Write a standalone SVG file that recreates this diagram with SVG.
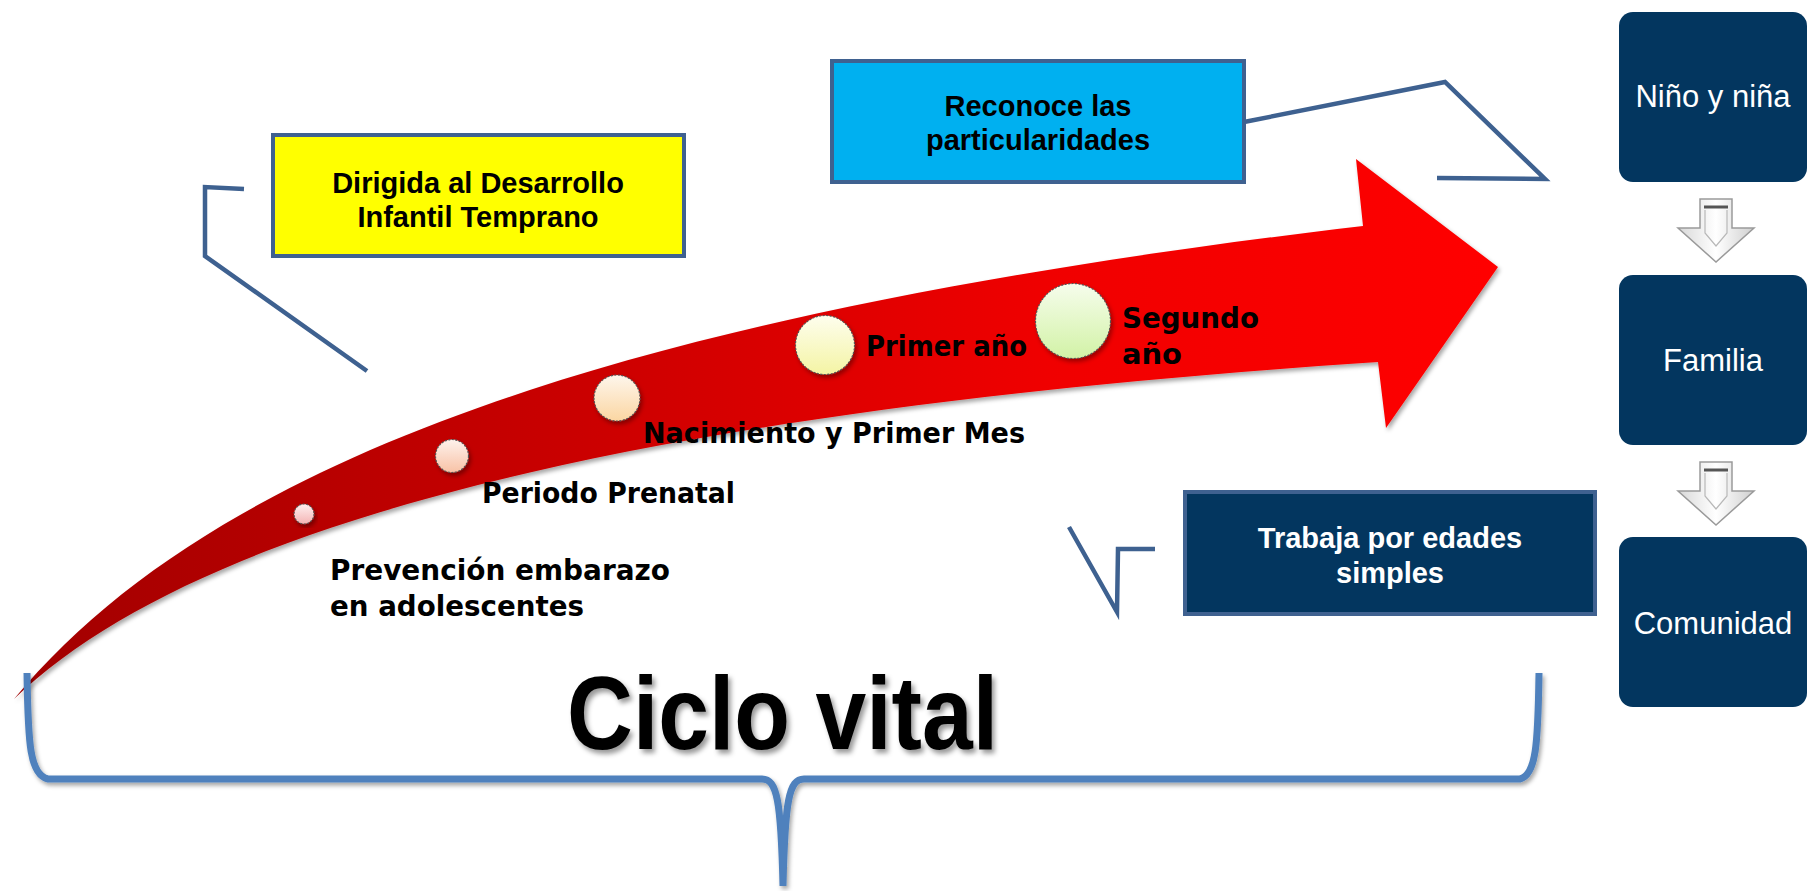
<svg xmlns="http://www.w3.org/2000/svg" width="1808" height="891" viewBox="0 0 1808 891">
<defs>
  <linearGradient id="redGrad" gradientUnits="userSpaceOnUse" x1="0" y1="0" x2="1500" y2="0">
    <stop offset="0" stop-color="#A00000"/>
    <stop offset="0.4" stop-color="#CC0000"/>
    <stop offset="0.7" stop-color="#F00000"/>
    <stop offset="1" stop-color="#FF0000"/>
  </linearGradient>
  <linearGradient id="g1" x1="0" y1="0" x2="0" y2="1"><stop offset="0" stop-color="#FEF0F0"/><stop offset="1" stop-color="#F4B4B4"/></linearGradient>
  <linearGradient id="g2" x1="0" y1="0" x2="0" y2="1"><stop offset="0" stop-color="#FEF2EC"/><stop offset="1" stop-color="#F8C2A6"/></linearGradient>
  <linearGradient id="g3" x1="0" y1="0" x2="0" y2="1"><stop offset="0" stop-color="#FEF6EC"/><stop offset="1" stop-color="#FBD6A2"/></linearGradient>
  <linearGradient id="g4" x1="0" y1="0" x2="0" y2="1"><stop offset="0" stop-color="#FEFEEE"/><stop offset="1" stop-color="#F4F4A4"/></linearGradient>
  <linearGradient id="g5" x1="0" y1="0" x2="0" y2="1"><stop offset="0" stop-color="#F6FDEC"/><stop offset="1" stop-color="#D2F2A6"/></linearGradient>
  <linearGradient id="hollow" x1="0" y1="0" x2="1" y2="0">
    <stop offset="0" stop-color="#D8D8D8"/>
    <stop offset="0.5" stop-color="#FFFFFF"/>
    <stop offset="1" stop-color="#CFCFCF"/>
  </linearGradient>
  <filter id="shadow" x="-10%" y="-10%" width="130%" height="130%">
    <feDropShadow dx="2" dy="3" stdDeviation="2" flood-color="#000" flood-opacity="0.35"/>
  </filter>
  <filter id="tshadow" x="-10%" y="-10%" width="130%" height="130%">
    <feDropShadow dx="3" dy="4" stdDeviation="2.5" flood-color="#000" flood-opacity="0.4"/>
  </filter>
  <style>
    .box { stroke: #3F6190; stroke-width: 4; }
    .callout { fill: none; stroke: #3E6190; stroke-width: 4.5; stroke-linejoin: miter; }
    .bt { font-family: "Liberation Sans", Arial, sans-serif; font-weight: bold; font-size: 29px; text-anchor: middle; }
    .lbl { font-family: "DejaVu Sans", "Liberation Sans", sans-serif; font-weight: bold; font-size: 29px; fill: #000; }
    .nav { fill: #03365F; }
    .wt { font-family: "Liberation Sans", Arial, sans-serif; font-size: 31px; fill: #FFFFFF; text-anchor: middle; }
    .dot { stroke: #555; stroke-width: 1.2; stroke-dasharray: 2 1.5; filter: url(#shadow); }
    .harrow { fill: url(#hollow); stroke: #9A9A9A; stroke-width: 1.5; }
  </style>
</defs>
<rect width="1808" height="891" fill="#FFFFFF"/>

<g id="arrow-ciclo">
  <path d="M 14,699 C 220,450 650,310 1363,226 L 1356,159 L 1498,267 L 1386,428 L 1378,362 C 650,410 200,520 14,699 Z" fill="url(#redGrad)" filter="url(#shadow)"/>
</g>

<g id="stages">
  <g id="stage-prevencion">
    <circle class="dot" cx="304" cy="514" r="10" fill="url(#g1)"/>
    <text class="lbl" x="330" y="580" textLength="340" lengthAdjust="spacingAndGlyphs">Prevención embarazo</text>
    <text class="lbl" x="330" y="616" textLength="254" lengthAdjust="spacingAndGlyphs">en adolescentes</text>
  </g>
  <g id="stage-prenatal">
    <circle class="dot" cx="452" cy="456" r="16.5" fill="url(#g2)"/>
    <text class="lbl" x="482" y="503" textLength="253" lengthAdjust="spacingAndGlyphs">Periodo Prenatal</text>
  </g>
  <g id="stage-nacimiento">
    <circle class="dot" cx="617" cy="398" r="23" fill="url(#g3)"/>
    <text class="lbl" x="643" y="443" textLength="382" lengthAdjust="spacingAndGlyphs">Nacimiento y Primer Mes</text>
  </g>
  <g id="stage-primer">
    <circle class="dot" cx="825" cy="345" r="29.5" fill="url(#g4)"/>
    <text class="lbl" x="866" y="356" textLength="161" lengthAdjust="spacingAndGlyphs">Primer año</text>
  </g>
  <g id="stage-segundo">
    <circle class="dot" cx="1073" cy="321" r="37.5" fill="url(#g5)"/>
    <text class="lbl" x="1122" y="328" textLength="137" lengthAdjust="spacingAndGlyphs">Segundo</text>
    <text class="lbl" x="1122" y="364" textLength="60" lengthAdjust="spacingAndGlyphs">año</text>
  </g>
</g>

<g id="connectors">
  <polyline class="callout" points="244,189 205,187 205,256 367,371"/>
  <polyline class="callout" points="1244,122 1445,82 1545,179 1437,178"/>
  <polyline class="callout" points="1069,527 1117,612 1118,549 1155,549"/>
</g>

<g id="box-dirigida">
  <rect class="box" x="273" y="135" width="411" height="121" fill="#FFFF00"/>
  <text class="bt" x="478" y="193">Dirigida al Desarrollo</text>
  <text class="bt" x="478" y="227">Infantil Temprano</text>
</g>

<g id="box-reconoce">
  <rect class="box" x="832" y="61" width="412" height="121" fill="#00B0F0"/>
  <text class="bt" x="1038" y="116">Reconoce las</text>
  <text class="bt" x="1038" y="150">particularidades</text>
</g>

<g id="box-trabaja">
  <rect class="box" x="1185" y="492" width="410" height="122" fill="#03365F"/>
  <text class="bt" x="1390" y="548" fill="#FFFFFF">Trabaja por edades</text>
  <text class="bt" x="1390" y="583" fill="#FFFFFF">simples</text>
</g>

<g id="node-nino">
  <rect class="nav" x="1619" y="12" width="188" height="170" rx="14"/>
  <text class="wt" x="1713" y="107">Niño y niña</text>
</g>
<g id="hollow-arrow-1">
  <polygon class="harrow" points="1700,199 1732,199 1732,228 1754,228 1716,262 1678,228 1700,228"/>
  <polyline points="1704,207 1728,207" stroke="#555" stroke-width="3" fill="none"/>
  <polyline points="1705,210 1705,233 1716,246 1727,233 1727,210" stroke="#B8B8B8" stroke-width="1.2" fill="none"/>
</g>
<g id="node-familia">
  <rect class="nav" x="1619" y="275" width="188" height="170" rx="14"/>
  <text class="wt" x="1713" y="371">Familia</text>
</g>
<g id="hollow-arrow-2">
  <polygon class="harrow" points="1700,462 1732,462 1732,491 1754,491 1716,525 1678,491 1700,491"/>
  <polyline points="1704,470 1728,470" stroke="#555" stroke-width="3" fill="none"/>
  <polyline points="1705,473 1705,496 1716,509 1727,496 1727,473" stroke="#B8B8B8" stroke-width="1.2" fill="none"/>
</g>
<g id="node-comunidad">
  <rect class="nav" x="1619" y="537" width="188" height="170" rx="14"/>
  <text class="wt" x="1713" y="634">Comunidad</text>
</g>

<g id="brace">
  <path d="M 27,673 C 28,745 30,775 48,779 L 762,779 C 777,779 781,800 783,886 C 785,800 789,779 804,779 L 1520,779 C 1536,775 1538,745 1539,673" fill="none" stroke="#4F81BD" stroke-width="7" filter="url(#shadow)"/>
</g>

<g id="title">
  <text x="567" y="749" textLength="431" lengthAdjust="spacingAndGlyphs" font-family="Liberation Sans, Arial, sans-serif" font-weight="bold" font-size="104" fill="#000" filter="url(#tshadow)">Ciclo vital</text>
</g>
</svg>
